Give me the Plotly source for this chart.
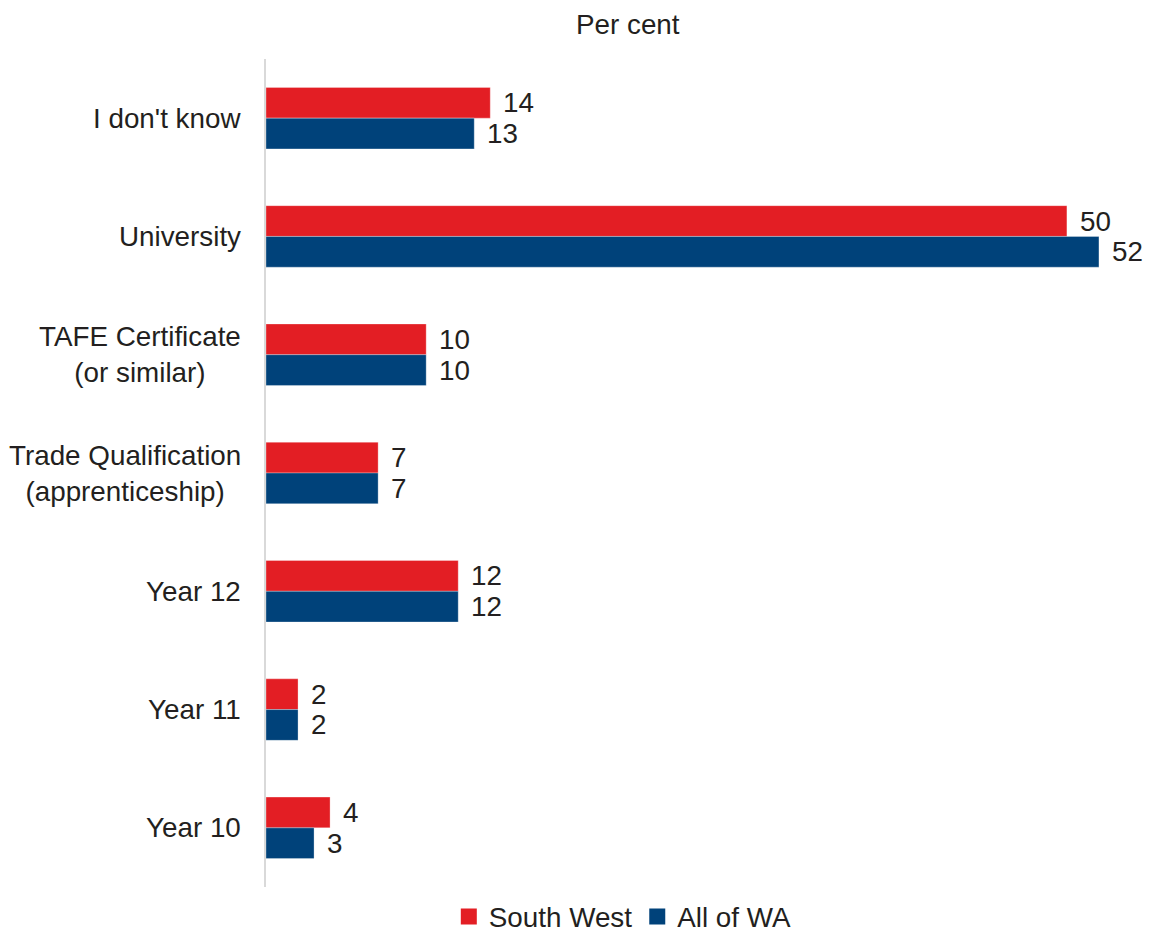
import plotly.graph_objects as go

categories = [
    "I don't know",
    "University",
    "TAFE Certificate<br>(or similar)",
    "Trade Qualification<br>(apprenticeship)",
    "Year 12",
    "Year 11",
    "Year 10",
]
south_west = [14, 50, 10, 7, 12, 2, 4]
all_of_wa = [13, 52, 10, 7, 12, 2, 3]

RED = "#E31E24"
BLUE = "#00427A"
TEXT = "#231F20"
FONT = "Liberation Sans, Arial, sans-serif"
FS = 27.8
BARGAP = 0.48

fig = go.Figure()
for name, vals, col in [("South West", south_west, RED), ("All of WA", all_of_wa, BLUE)]:
    fig.add_trace(go.Bar(
        y=categories, x=vals, orientation="h", name=name,
        marker=dict(color=col, line=dict(color="rgba(255,255,255,0.6)", width=0.5)),
        showlegend=False,
    ))
    # legend entry with a larger square swatch
    fig.add_trace(go.Scatter(
        x=[None], y=[None], mode="markers", name=name,
        marker=dict(symbol="square", size=20, color=col),
    ))

# value labels just past the end of each bar, centred on the bar
half = (1 - BARGAP) / 4
annotations = []
for sign, vals in [(-1, south_west), (1, all_of_wa)]:
    for i, v in enumerate(vals):
        annotations.append(dict(
            x=v, y=i + sign * half, xref="x", yref="y",
            text=str(v), showarrow=False, xanchor="left", yanchor="middle",
            xshift=11, font=dict(size=FS, color=TEXT, family=FONT),
        ))

# category labels, centred line by line
for i, c in enumerate(categories):
    annotations.append(dict(
        x=0, y=i, xref="paper", yref="y", text=c, showarrow=False,
        xanchor="right", yanchor="middle", align="center", xshift=-23,
        font=dict(size=FS, color=TEXT, family=FONT),
    ))

annotations.append(dict(
    x=0.411, y=1.042, xref="paper", yref="paper", text="Per cent",
    showarrow=False, xanchor="center", yanchor="middle",
    font=dict(size=FS, color=TEXT, family=FONT),
))

fig.update_layout(
    width=1153, height=933,
    margin=dict(l=266, r=6, t=59, b=46, autoexpand=False),
    paper_bgcolor="white", plot_bgcolor="white",
    barmode="group", bargap=BARGAP, bargroupgap=0,
    font=dict(family=FONT, size=FS, color=TEXT),
    annotations=annotations,
    legend=dict(
        orientation="h", x=0.405, xanchor="center", y=-0.036, yanchor="middle",
        font=dict(size=FS, color=TEXT, family=FONT),
        itemwidth=30, tracegroupgap=0,
    ),
    xaxis=dict(range=[0, 55], showgrid=False, zeroline=False,
               showticklabels=False, showline=False, ticks=""),
    yaxis=dict(type="category", categoryorder="array", categoryarray=categories,
               range=[6.5, -0.5], showticklabels=False, showgrid=False,
               zeroline=False, ticks="",
               showline=True, linecolor="#D9D9D9", linewidth=2),
)

fig.write_html("out.html")
